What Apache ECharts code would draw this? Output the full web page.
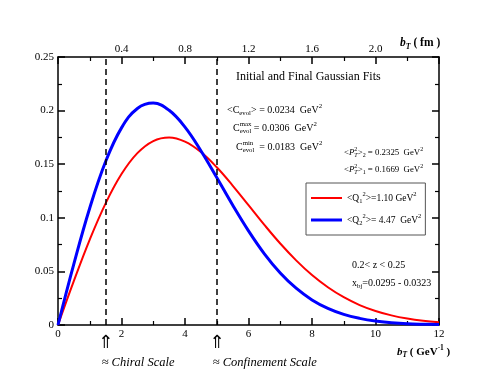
<!DOCTYPE html>
<html><head><meta charset="utf-8">
<script src="https://cdn.jsdelivr.net/npm/echarts@6/dist/echarts.min.js"></script>
<style>html,body{margin:0;padding:0;background:#fff}#c{width:495px;height:383px}</style>
</head><body><div id="c"></div>
<script>
// b_T values (GeV^-1)
const bT = [0,0.5,1,1.5,2,2.5,3,3.5,4,4.5,5,5.5,6,6.5,7,7.5,8,8.5,9,9.5,10,10.5,11,11.5,12];
// <Q1^2> = 1.10 GeV^2 (red)
const q1Curve = [0,0.0411,0.0797,0.1135,0.1408,0.1603,0.1716,0.1749,0.1710,0.1613,0.1471,0.1301,0.1118,0.0934,0.0760,0.0603,0.0466,0.0352,0.0259,0.0186,0.0131,0.0090,0.0060,0.0039,0.0025];
// <Q2^2> = 4.47 GeV^2 (blue)
const q2Curve = [0,0.0570,0.1092,0.1525,0.1839,0.2020,0.2070,0.2003,0.1846,0.1626,0.1376,0.1119,0.0878,0.0664,0.0485,0.0343,0.0234,0.0155,0.0099,0.0062,0.0037,0.0022,0.0012,0.0007,0.0004];
const scaleLines = [1.5, 5];
const scaleNames = ['\u2248 Chiral Scale', '\u2248 Confinement Scale'];
const seriesNames = ['Q1', 'Q2'];

const FF = '"Liberation Serif","DejaVu Serif",serif';
const chart = echarts.init(document.getElementById('c'), null, {renderer:'canvas'});
const ctx = document.createElement('canvas').getContext('2d');
function mw(t, font){ ctx.font = font; return ctx.measureText(t).width; }
function richText(x, y, segs, base){
  const out = []; let cx = x, lastStart = x;
  segs.forEach(s => {
    const k = s.k || 'n';
    const size = k === 'n' ? base : base * 0.68;
    const font = (s.st || '') + ' ' + size.toFixed(1) + 'px ' + FF;
    const dy = k === 'sub' ? base * 0.32 : (k === 'sup' ? -base * 0.38 : 0);
    const w = mw(s.t, font);
    let sx;
    if (s.stack) { sx = lastStart; cx = Math.max(cx, sx + w); }
    else { sx = cx; cx += w; }
    lastStart = sx;
    out.push({type:'text', x: sx, y: y + dy, silent: true,
      style:{text: s.t, font: font, fill:'#000', verticalAlign:'middle', align:'left'}});
  });
  return out;
}
const axisCommon = {
  axisLine:{show:true, onZero:false, lineStyle:{color:'#000', width:1.5}},
  axisTick:{show:true, inside:true, length:7, lineStyle:{color:'#000', width:1.5}},
  minorTick:{show:true, splitNumber:2, length:4, lineStyle:{color:'#000', width:1.2}},
  splitLine:{show:false},
  axisLabel:{color:'#000', fontFamily:FF, fontSize:11, margin:4}
};
const option = {
  animation:false,
  backgroundColor:'#fff',
  grid:{left:58, right:56, top:57, bottom:58, containLabel:false},
  xAxis:[
    Object.assign({}, axisCommon, {type:'value', position:'bottom', min:0, max:12, interval:2}),
    Object.assign({}, axisCommon, {type:'value', position:'top', min:0, max:2.4, interval:0.4,
      axisLabel:Object.assign({}, axisCommon.axisLabel, {margin:2,
        formatter: v => (v < 0.01 || v > 2.35) ? '' : v.toFixed(1)})})
  ],
  yAxis:[
    Object.assign({}, axisCommon, {type:'value', position:'left', min:0, max:0.25, interval:0.05,
      axisLabel:Object.assign({}, axisCommon.axisLabel, {formatter: v => String(+v.toFixed(2))})}),
    Object.assign({}, axisCommon, {type:'value', position:'right', min:0, max:0.25, interval:0.05,
      axisLabel:{show:false}})
  ],
  legend:{
    orient:'vertical', left:306, top:183,
    data: [
      {name: seriesNames[0], icon:'path://M0,0L31,0L31,2L0,2Z'},
      {name: seriesNames[1], icon:'path://M0,0L31,0L31,3L0,3Z'}
    ],
    borderColor:'#555', borderWidth:1, padding:[8,4,8,5], itemGap:8,
    itemWidth:31, itemHeight:14,
    textStyle:{fontFamily:FF, fontSize:9.5, color:'#000',
      rich:{
        n:{fontFamily:FF, fontSize:9.5, color:'#000', lineHeight:14},
        sb:{fontFamily:FF, fontSize:6.5, color:'#000', lineHeight:7, verticalAlign:'bottom'},
        sp:{fontFamily:FF, fontSize:6.5, color:'#000', lineHeight:7, verticalAlign:'top'}
      }},
    formatter: name => name === 'Q1'
      ? '{n|<Q}{sb|1}{sp|2}{n|>=1.10 GeV}{sp|2}'
      : '{n|<Q}{sb|2}{sp|2}{n|>= 4.47  GeV}{sp|2}'
  },
  series:[
    {name:'Q1', type:'line', xAxisIndex:0, yAxisIndex:0, showSymbol:false, symbol:'none', smooth:0.4,
     lineStyle:{color:'#ff0000', width:2}, itemStyle:{color:'#ff0000'},
     data: bT.map((b,i)=>[b, q1Curve[i]]),
     markLine:{silent:true, symbol:'none', label:{show:false},
       lineStyle:{color:'#000', type:[6,4], width:1.5},
       data: scaleLines.map(v=>({xAxis:v}))}},
    {name:'Q2', type:'line', xAxisIndex:0, yAxisIndex:0, showSymbol:false, symbol:'none', smooth:0.4,
     lineStyle:{color:'#0000ff', width:3}, itemStyle:{color:'#0000ff'},
     data: bT.map((b,i)=>[b, q2Curve[i]])}
  ]
};
chart.setOption(option);

let g = [];
g.push({type:'text', x:236, y:77, silent:true,
  style:{text:'Initial and Final Gaussian Fits', font:'12px '+FF, fill:'#000', verticalAlign:'middle'}});
g = g.concat(richText(227, 110, [{t:'<C'},{t:'evol',k:'sub'},{t:'> = 0.0234  GeV'},{t:'2',k:'sup'}], 10));
g = g.concat(richText(233, 128, [{t:'C'},{t:'max',k:'sup'},{t:'evol',k:'sub',stack:true},{t:' = 0.0306  GeV'},{t:'2',k:'sup'}], 10));
g = g.concat(richText(236, 147, [{t:'C'},{t:'min',k:'sup'},{t:'evol',k:'sub',stack:true},{t:'  = 0.0183  GeV'},{t:'2',k:'sup'}], 10));
g = g.concat(richText(344, 153, [{t:'<'},{t:'P',st:'italic'},{t:'2',k:'sup'},{t:'T',k:'sub',st:'italic',stack:true},{t:'>'},{t:'2',k:'sub'},{t:' = 0.2325  GeV'},{t:'2',k:'sup'}], 8.8));
g = g.concat(richText(344, 170, [{t:'<'},{t:'P',st:'italic'},{t:'2',k:'sup'},{t:'T',k:'sub',st:'italic',stack:true},{t:'>'},{t:'1',k:'sub'},{t:' = 0.1669  GeV'},{t:'2',k:'sup'}], 8.8));
g = g.concat(richText(352, 265, [{t:'0.2< z < 0.25'}], 10));
g = g.concat(richText(352, 283, [{t:'x'},{t:'bj',k:'sub'},{t:'=0.0295 - 0.0323'}], 10));
g = g.concat(richText(400, 43, [{t:'b',st:'bold italic'},{t:'T',k:'sub',st:'bold italic'},{t:' ( fm )',st:'bold'}], 11.5));
g = g.concat(richText(397, 352, [{t:'b',st:'bold italic'},{t:'T',k:'sub',st:'bold italic'},{t:' ( GeV',st:'bold'},{t:'-1',k:'sup',st:'bold'},{t:' )',st:'bold'}], 11));
scaleLines.forEach((v, i) => {
  const px = chart.convertToPixel({xAxisIndex:0}, v);
  g.push({type:'text', x:px, y:343, silent:true,
    style:{text:'\u21D1', font:'18px "DejaVu Sans"', fill:'#000', align:'center', verticalAlign:'middle'}});
  g.push({type:'text', x:px - 4, y:363, silent:true,
    style:{text:scaleNames[i], font:'italic 12.5px '+FF, fill:'#000', align:'left', verticalAlign:'middle'}});
});
chart.setOption({graphic:{elements:g}});
</script></body></html>
